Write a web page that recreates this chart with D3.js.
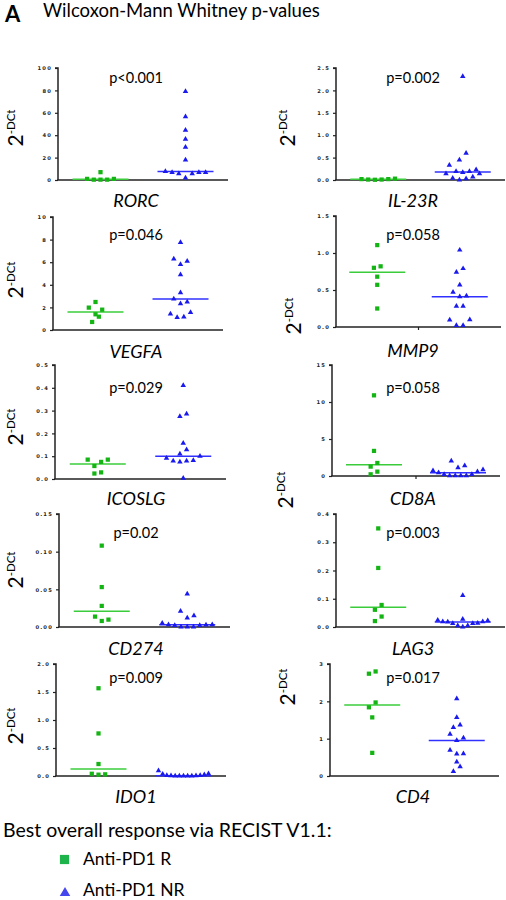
<!DOCTYPE html>
<html><head><meta charset="utf-8">
<script src="https://cdn.jsdelivr.net/npm/d3@7"></script>
<style>body{margin:0;background:#fff} svg{display:block}</style>
</head><body><svg id="c" width="506" height="900"></svg>
<script>
// ---------- DATA ----------
const genes = ["RORC","IL-23R","VEGFA","MMP9","ICOSLG","CD8A","CD274","LAG3","IDO1","CD4"];
const pValues = ["p<0.001","p=0.002","p=0.046","p=0.058","p=0.029","p=0.058","p=0.02","p=0.003","p=0.009","p=0.017"];
const groupNames = ["Anti-PD1 R","Anti-PD1 NR"];
const respValues = [
  [1, 0.3, 7, 0.3, 0.3, 1],
  [0.02, 0.01, 0.005, 0.01, 0.02, 0.03],
  [2.48, 1.98, 1.8, 1.39, 1.18, 0.71],
  [1.107, 0.82, 0.8, 0.68, 0.57, 0.25],
  [0.085, 0.085, 0.075, 0.057, 0.029, 0.024],
  [10.9, 3.39, 1.76, 1.27, 0.59, 0.23],
  [0.108, 0.053, 0.028, 0.0138, 0.0098, 0.008],
  [0.349, 0.209, 0.078, 0.061, 0.037, 0.021],
  [1.567, 0.76, 0.214, 0.04, 0.03, 0.024],
  [2.8, 2.74, 1.97, 1.84, 1.57, 0.62]
];
const nonRespValues = [
  [79, 56.5, 44.5, 36.5, 29.3, 18, 7.7, 6.8, 6.8, 6.8, 5.6, 5.6, 1.8],
  [2.31, 0.6, 0.45, 0.33, 0.23, 0.19, 0.19, 0.17, 0.14, 0.14, 0.07, 0.04, 0.03, 0],
  [7.76, 6.28, 6.1, 5.8, 4.9, 3.3, 2.74, 2.48, 2.33, 1.56, 1.42, 1.15, 1.12],
  [1.04, 0.79, 0.74, 0.57, 0.47, 0.42, 0.41, 0.28, 0.28, 0.1, 0.095, 0.02, 0.02],
  [0.41, 0.285, 0.275, 0.157, 0.129, 0.11, 0.1, 0.091, 0.082, 0.079, 0.079, 0.075, 0.004],
  [2.03, 1.4, 1.13, 0.86, 0.72, 0.59, 0.45, 0.23, 0.23, 0.05, 0.05, 0.05, 0.05],
  [0.044, 0.021, 0.015, 0.012, 0.005, 0.003, 0.003, 0.0027, 0.002, 0.002, 0, 0, 0],
  [0.112, 0.028, 0.024, 0.022, 0.019, 0.019, 0.018, 0.014, 0.013, 0.013, 0.005, 0.005, 0],
  [0.095, 0.04, 0.035, 0.024, 0.012, 0.012, 0.005, 0.005, 0.002, 0.002, 0, 0, 0],
  [2.07, 1.57, 1.37, 1.3, 1.12, 1.02, 0.95, 0.69, 0.6, 0.59, 0.38, 0.25, 0.12]
];
const yMaxes = [100, 2.5, 10, 1.5, 0.5, 15, 0.15, 0.4, 2.0, 3];
const yTicks = [
  [0,20,40,60,80,100],
  [0,0.5,1,1.5,2,2.5],
  [0,2,4,6,8,10],
  [0,0.5,1,1.5],
  [0,0.1,0.2,0.3,0.4,0.5],
  [0,5,10,15],
  [0,0.05,0.1,0.15],
  [0,0.1,0.2,0.3,0.4],
  [0,0.5,1,1.5,2],
  [0,1,2,3]
];
const yTickLabels = [
  ["0","20","40","60","80","100"],
  ["0.0","0.5","1.0","1.5","2.0","2.5"],
  ["0","2","4","6","8","10"],
  ["0.0","0.5","1.0","1.5"],
  ["0.0","0.1","0.2","0.3","0.4","0.5"],
  ["0","5","10","15"],
  ["0.00","0.05","0.10","0.15"],
  ["0.0","0.1","0.2","0.3","0.4"],
  ["0.0","0.5","1.0","1.5","2.0"],
  ["0","1","2","3"]
];
const panelLetter = "A";
const titleText = "Wilcoxon-Mann Whitney p-values";
const legendTitle = "Best overall response via RECIST V1.1:";

// ---------- LAYOUT ----------
const boxes = [
  {x0:58, x1:228, top:68,  bot:180, pY:83,  gY:207, lab:[23,128]},
  {x0:336,x1:505, top:68,  bot:180, pY:83,  gY:207, lab:[295,128]},
  {x0:53, x1:223, top:217, bot:330, pY:240, gY:358, lab:[23,280]},
  {x0:336,x1:501, top:216, bot:327, pY:240, gY:357, lab:[301,316], midTick:true},
  {x0:55, x1:226, top:365, bot:479, pY:393, gY:505, lab:[23,427]},
  {x0:332,x1:500, top:365, bot:476, pY:393, gY:505, lab:[293,490], midTick:true},
  {x0:59, x1:230, top:514, bot:627, pY:538, gY:655, lab:[23,570]},
  {x0:336,x1:505, top:514, bot:627, pY:538, gY:655, lab:null},
  {x0:56, x1:226, top:664, bot:776, pY:683, gY:803, lab:[23,726]},
  {x0:330,x1:499, top:664, bot:776, pY:683, gY:803, lab:[295,687]}
];
const colCenter = [136, 413];
const colors = {R:"#14b414", NR:"#1a1aee", Rline:"#3acc3a", NRline:"#3030ff"};
const FONT = "Lato, 'Open Sans', sans-serif";

const svg = d3.select("#c");

svg.append("text").attr("x",5).attr("y",22).attr("font-family",FONT)
  .attr("font-weight","bold").attr("font-size",22).text(panelLetter);
svg.append("text").attr("x",43).attr("y",17).attr("font-family",FONT)
  .attr("font-size",18.5).text(titleText);

// beeswarm into rows
function swarm(values, y, cx) {
  const pts = values.map(v => ({v, py: y(v)})).sort((a,b)=>a.v-b.v);
  const rows = [];
  let cur = null;
  pts.forEach(p => {
    if (cur && Math.abs(cur.start - p.py) <= 7.2) cur.items.push(p);
    else { cur = {start: p.py, items:[p]}; rows.push(cur); }
  });
  rows.forEach(r => {
    const n = r.items.length;
    const sp = n > 1 ? Math.min(6.7, 50/(n-1)) : 0;
    let slots = [];
    if (n % 2 === 1) { slots.push(0); for (let k=1; slots.length<n; k++){ slots.push(k); if(slots.length<n) slots.push(-k);} }
    else { for (let k=0.5; slots.length<n; k++){ slots.push(-k); if(slots.length<n) slots.push(k);} }
    r.items.forEach((p,i)=>{ p.px = cx + slots[i]*sp; });
  });
  return pts;
}

genes.forEach((g, i) => {
  const b = boxes[i];
  const col = i % 2;
  const y = d3.scaleLinear().domain([0, yMaxes[i]]).range([b.bot, b.top]);
  const xg = d3.scaleLinear().domain([0,1]).range([b.x0, b.x1]);
  const centers = [xg(0.25), xg(0.75)];
  const gp = svg.append("g");

  // y axis
  const ax = d3.axisLeft(y).tickValues(yTicks[i]).tickFormat((d,k)=>yTickLabels[i][k])
    .tickSize(3).tickPadding(3);
  const ag = gp.append("g").attr("transform",`translate(${b.x0},0)`).call(ax);
  ag.select(".domain").attr("stroke","#222").attr("stroke-width",1.5).attr("d",`M-3,${b.top}H0V${b.bot}`);
  ag.selectAll(".tick line").attr("stroke","#222").attr("stroke-width",1.2);
  ag.selectAll(".tick text").attr("font-family","'DejaVu Sans', sans-serif").attr("font-weight","bold")
    .attr("font-size",5.2).attr("letter-spacing",1.2).attr("fill","#222");
  // x axis
  gp.append("line").attr("x1",b.x0-0.75).attr("x2",b.x1).attr("y1",b.bot).attr("y2",b.bot)
    .attr("stroke","#222").attr("stroke-width",1.5);
  if (b.midTick) gp.append("line").attr("x1",xg(0.5)).attr("x2",xg(0.5)).attr("y1",b.bot).attr("y2",b.bot+3)
    .attr("stroke","#222").attr("stroke-width",1.2);

  // points
  const rp = swarm(respValues[i], y, centers[0]);
  const np = swarm(nonRespValues[i], y, centers[1]);
  // medians
  const mR = d3.median(respValues[i]), mN = d3.median(nonRespValues[i]);
  gp.append("line").attr("x1",centers[0]-28).attr("x2",centers[0]+28).attr("y1",y(mR)).attr("y2",y(mR))
    .attr("stroke",colors.Rline).attr("stroke-width",1.5);
  gp.append("line").attr("x1",centers[1]-28).attr("x2",centers[1]+28).attr("y1",y(mN)).attr("y2",y(mN))
    .attr("stroke",colors.NRline).attr("stroke-width",1.5);
  gp.selectAll("path.r").data(rp).join("path").attr("class","r")
    .attr("d", d3.symbol(d3.symbolSquare, 18)).attr("transform", d=>`translate(${d.px},${d.py})`)
    .attr("fill", colors.R);
  gp.selectAll("path.n").data(np).join("path").attr("class","n")
    .attr("d", d3.symbol(d3.symbolTriangle, 13)).attr("transform", d=>`translate(${d.px},${d.py})`)
    .attr("fill", colors.NR);

  // p-value
  gp.append("text").attr("x",colCenter[col]).attr("y",b.pY).attr("text-anchor","middle")
    .attr("font-family",FONT).attr("font-size",14.5).text(pValues[i]);
  // gene label
  gp.append("text").attr("x",colCenter[col]).attr("y",b.gY).attr("text-anchor","middle")
    .attr("font-family",FONT).attr("font-style","italic").attr("font-size",18).text(g);
  // y label
  if (b.lab) {
    const t = gp.append("text").attr("transform",`translate(${b.lab[0]},${b.lab[1]}) rotate(-90)`)
      .attr("text-anchor","middle").attr("font-family",FONT);
    t.append("tspan").attr("font-size",21).text("2");
    t.append("tspan").attr("font-size",11.5).attr("dy",-8).text("-DCt");
  }
});

// legend
svg.append("text").attr("x",3).attr("y",837).attr("font-family",FONT).attr("font-size",19.5).text(legendTitle);
svg.append("path").attr("d", d3.symbol(d3.symbolSquare, 85)).attr("transform","translate(64.5,859.5)").attr("fill","#1fb34c");
svg.append("path").attr("d", d3.symbol(d3.symbolTriangle, 48)).attr("transform","translate(65,893)").attr("fill","#4646ee");
svg.append("text").attr("x",83).attr("y",865).attr("font-family",FONT).attr("font-size",17.5).text(groupNames[0]);
svg.append("text").attr("x",83).attr("y",896).attr("font-family",FONT).attr("font-size",17.5).text(groupNames[1]);
</script></body></html>
